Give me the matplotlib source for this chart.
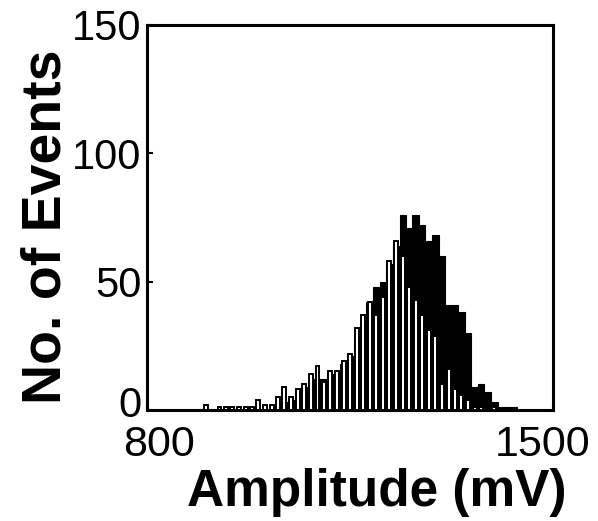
import matplotlib
matplotlib.use("Agg")
import matplotlib.pyplot as plt
import matplotlib.transforms as mtransforms
import numpy as np

plt.rcParams['font.family'] = ['Liberation Sans', 'DejaVu Sans']

# bin centres (mV)
amplitude_bins = [902, 913, 925, 936, 947, 958, 970, 981, 992, 1004, 1015, 1026,
                  1037, 1049, 1060, 1071, 1083, 1094, 1105, 1116, 1128, 1139, 1150, 1162,
                  1173, 1184, 1195, 1207, 1218, 1229, 1241, 1252, 1263, 1274, 1286, 1297,
                  1308, 1320, 1331, 1342, 1353, 1365, 1376, 1387, 1399, 1410, 1421, 1432]
white_counts = [2, 0, 1, 1, 1, 1, 1, 1, 4, 2, 2, 5, 9, 5, 8, 10, 14, 17, 11, 15, 15, 19, 22, 32,
                37, 42, 37, 44, 58, 66, 60, 48, 43, 37, 31, 29, 10, 16, 8, 6, 4, 1, 1, 0, 1, 0, 0, 0]
black_counts = [0, 0, 0, 0, 0, 0, 0, 0, 0, 0, 0, 2, 3, 4, 7, 9, 11, 12, 12, 14, 15, 18, 21, 28,
                34, 42, 48, 50, 57, 64, 76, 71, 76, 72, 66, 68, 60, 41, 41, 38, 30, 9, 10, 7, 3, 1, 1, 1]
x_ticks = [800, 1500]
y_ticks = [0, 50, 100, 150]
bin_width = 11.3

fig = plt.figure(figsize=(5.98, 5.21), dpi=100)
ax = fig.add_axes([0.2458, 0.2131, 0.679, 0.739])

ax.bar(amplitude_bins, black_counts, width=bin_width, color='black', edgecolor='black',
       linewidth=0.8, zorder=2)
ax.bar(amplitude_bins, white_counts, width=bin_width * 0.6, color='white', edgecolor='black',
       linewidth=1.4, zorder=3)

ax.set_xlim(800, 1500)
ax.set_ylim(0, 150)
ax.set_xticks(x_ticks)
ax.set_yticks(y_ticks)
ax.set_xticklabels([str(v) for v in x_ticks], fontsize=31)
ax.set_yticklabels([str(v) for v in y_ticks], fontsize=30)
ax.tick_params(direction='in', length=4, width=1.5, pad=4)
ax.tick_params(axis='x', pad=11)
for s in ax.spines.values():
    s.set_linewidth(2.2)

# nudge tick labels as in the reference
xl = ax.get_xticklabels()
xl[0].set_transform(xl[0].get_transform() + mtransforms.ScaledTranslation(0.12, 0, fig.dpi_scale_trans))
xl[1].set_transform(xl[1].get_transform() + mtransforms.ScaledTranslation(-0.1, 0, fig.dpi_scale_trans))
yl = ax.get_yticklabels()
yl[0].set_transform(yl[0].get_transform() + mtransforms.ScaledTranslation(0, 0.08, fig.dpi_scale_trans))

fig.text(0.63, 0.055, 'Amplitude (mV)', fontsize=37, fontweight='bold', ha='center', va='center')
fig.text(0.077, 0.565, 'No. of Events', fontsize=40, fontweight='bold', ha='center', va='center',
         rotation=90)

fig.savefig('out.png', dpi=100)
